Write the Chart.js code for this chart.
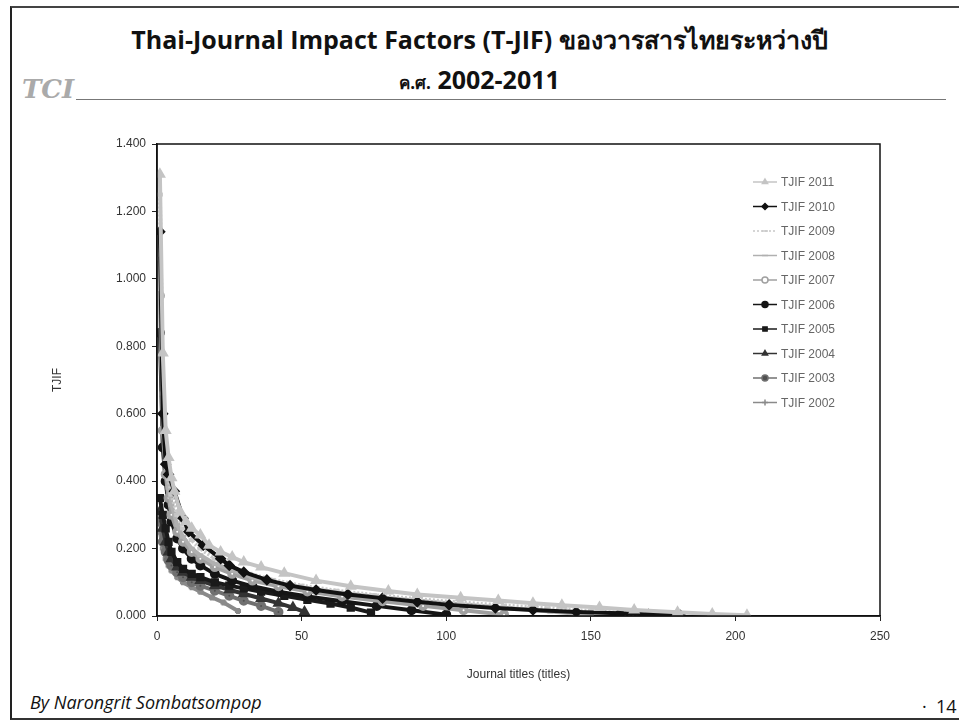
<!DOCTYPE html>
<html>
<head>
<meta charset="utf-8">
<script src="https://cdn.jsdelivr.net/npm/chart.js@4.4.0/dist/chart.umd.min.js"></script>
<style>
  body { margin: 0; background: #fff; }
  #slide { position: relative; width: 959px; height: 726px; overflow: hidden; background: #fff; }
  #frame { position: absolute; left: 10px; top: 6px; width: 960px; height: 710px;
           border-left: 2px solid #222; border-top: 2px solid #444; border-bottom: 2px solid #333; }
  .title { position: absolute; left: 0; width: 959px; text-align: center; font-family: "Open Sans", "Noto Sans", sans-serif;
           font-weight: bold; color: #111; }
  #t1 { top: 20px; font-size: 25px; }
  #t2 { top: 62px; font-size: 25px; }
  #t2 small { font-size: 17px; }
  #logo { position: absolute; left: 22px; top: 74px; font-family: "DejaVu Serif", serif; font-style: italic;
          font-weight: bold; font-size: 26px; color: #aaa; }
  #rule { position: absolute; left: 76px; top: 99px; width: 870px; border-top: 1px solid #777; }
  #by { position: absolute; left: 30px; top: 690px; font-family: "Open Sans", "Noto Sans", sans-serif; font-style: italic;
        font-size: 18px; color: #111; width: 320px; }
  #page { position: absolute; left: 922px; top: 694px; font-family: "Open Sans", sans-serif; font-size: 18px; color: #111; }
  canvas { position: absolute; left: 0; top: 0; }
</style>
</head>
<body>
<div id="slide">
  <div id="frame"></div>
  <div class="title" id="t1">Thai-Journal Impact Factors (T-JIF) ของวารสารไทยระหว่างปี</div>
  <div class="title" id="t2"><small>ค.ศ.</small> 2002-2011</div>
  <div id="logo">TCI</div>
  <div id="rule"></div>
  <div id="by">By Narongrit Sombatsompop</div>
  <div id="page">· &nbsp;14</div>
  <canvas id="chart" width="959" height="726"></canvas>
</div>
<script>
  // ค่าที่อ่านจากภาพ (อันดับวารสาร, T-JIF)
  const seriesNames = ['TJIF 2011', 'TJIF 2010', 'TJIF 2009', 'TJIF 2008', 'TJIF 2007',
                       'TJIF 2006', 'TJIF 2005', 'TJIF 2004', 'TJIF 2003', 'TJIF 2002'];

  const rank2011 = [1, 2, 3, 4, 5, 6, 8, 10, 12, 15, 18, 22, 26, 30, 36, 44, 55, 67, 80, 90, 105, 118, 130, 140, 153, 165, 180, 192, 204];
  const tjif2011 = [1.31, 0.78, 0.55, 0.47, 0.41, 0.37, 0.31, 0.28, 0.26, 0.24, 0.21, 0.19, 0.175, 0.16, 0.145, 0.127, 0.105, 0.088, 0.074, 0.064, 0.054, 0.046, 0.038, 0.032, 0.025, 0.018, 0.011, 0.006, 0.002];

  const rank2010 = [1, 2, 3, 4, 6, 9, 11, 16, 22, 25, 30, 38, 46, 55, 66, 78, 90, 101, 117, 130, 145, 160, 170, 181];
  const tjif2010 = [1.14, 0.6, 0.45, 0.42, 0.37, 0.29, 0.25, 0.21, 0.17, 0.15, 0.13, 0.107, 0.09, 0.077, 0.064, 0.053, 0.042, 0.033, 0.024, 0.018, 0.012, 0.008, 0.005, 0.002];

  const rank2009 = [1, 2, 3, 4, 5, 7, 9, 12, 15, 20, 26, 32, 40, 50, 62, 75, 90, 105, 120, 135, 150, 160, 170];
  const tjif2009 = [1.25, 0.66, 0.5, 0.41, 0.36, 0.3, 0.26, 0.225, 0.2, 0.17, 0.145, 0.125, 0.107, 0.09, 0.075, 0.062, 0.05, 0.04, 0.031, 0.023, 0.015, 0.009, 0.003];

  const rank2008 = [1, 2, 3, 4, 5, 7, 9, 12, 15, 20, 26, 33, 42, 52, 64, 78, 92, 108, 122, 136, 150];
  const tjif2008 = [1.06, 0.6, 0.46, 0.38, 0.33, 0.27, 0.235, 0.2, 0.18, 0.155, 0.135, 0.115, 0.097, 0.082, 0.068, 0.055, 0.044, 0.033, 0.023, 0.013, 0.003];

  const rank2007 = [1, 2, 3, 4, 5, 7, 9, 12, 15, 20, 26, 33, 42, 52, 64, 78, 92, 106, 120];
  const tjif2007 = [0.95, 0.55, 0.42, 0.35, 0.3, 0.25, 0.22, 0.19, 0.17, 0.145, 0.125, 0.105, 0.088, 0.073, 0.058, 0.044, 0.03, 0.017, 0.004];

  const rank2006 = [1, 2, 3, 4, 5, 7, 9, 12, 15, 20, 26, 33, 42, 52, 64, 76, 88, 100];
  const tjif2006 = [0.84, 0.5, 0.4, 0.33, 0.28, 0.23, 0.2, 0.17, 0.15, 0.125, 0.105, 0.088, 0.072, 0.058, 0.044, 0.03, 0.017, 0.004];

  const rank2005 = [1, 2, 3, 4, 5, 7, 9, 12, 15, 20, 25, 30, 36, 44, 52, 60, 67, 74];
  const tjif2005 = [0.35, 0.3, 0.26, 0.22, 0.19, 0.16, 0.14, 0.125, 0.115, 0.1, 0.09, 0.082, 0.072, 0.06, 0.048, 0.037, 0.025, 0.01];

  const rank2004 = [1, 2, 3, 4, 5, 7, 9, 12, 15, 20, 25, 30, 36, 42, 47, 51];
  const tjif2004 = [0.31, 0.26, 0.22, 0.19, 0.17, 0.145, 0.13, 0.115, 0.105, 0.09, 0.078, 0.066, 0.052, 0.038, 0.025, 0.012];

  const rank2003 = [1, 2, 3, 4, 5, 7, 9, 12, 15, 20, 25, 30, 36, 42];
  const tjif2003 = [0.28, 0.22, 0.19, 0.165, 0.15, 0.13, 0.115, 0.1, 0.09, 0.075, 0.06, 0.045, 0.03, 0.012];

  const rank2002 = [1, 2, 3, 4, 5, 7, 9, 12, 15, 19, 23, 28];
  const tjif2002 = [0.25, 0.2, 0.17, 0.15, 0.135, 0.115, 0.1, 0.085, 0.072, 0.055, 0.04, 0.015];

  const xTicks = [0, 50, 100, 150, 200, 250];
  const yTicks = [0, 0.2, 0.4, 0.6, 0.8, 1.0, 1.2, 1.4];

  const ranks = [rank2011, rank2010, rank2009, rank2008, rank2007, rank2006, rank2005, rank2004, rank2003, rank2002];
  const values = [tjif2011, tjif2010, tjif2009, tjif2008, tjif2007, tjif2006, tjif2005, tjif2004, tjif2003, tjif2002];

  // style ของแต่ละเส้น (สแกนขาวดำ)
  const styles = [
    { color: '#c4c4c4', point: 'triangle', fill: '#c4c4c4', dash: [] },
    { color: '#111111', point: 'rectRot', fill: '#111111', dash: [] },
    { color: '#c8c8c8', point: 'line', fill: '#c8c8c8', dash: [2, 2] },
    { color: '#b0b0b0', point: 'line', fill: '#b0b0b0', dash: [] },
    { color: '#a0a0a0', point: 'circle', fill: '#ffffff', dash: [] },
    { color: '#151515', point: 'circle', fill: '#151515', dash: [] },
    { color: '#1a1a1a', point: 'rect', fill: '#1a1a1a', dash: [] },
    { color: '#333333', point: 'triangle', fill: '#333333', dash: [] },
    { color: '#707070', point: 'circle', fill: '#505050', dash: [] },
    { color: '#8a8a8a', point: 'cross', fill: '#8a8a8a', dash: [] }
  ];

  const datasets = seriesNames.map((name, i) => ({
    label: name,
    data: ranks[i].map((r, k) => ({ x: r, y: values[i][k] })),
    borderColor: styles[i].color,
    backgroundColor: styles[i].fill,
    pointBackgroundColor: styles[i].fill,
    pointBorderColor: styles[i].color,
    pointStyle: styles[i].point,
    pointRadius: 3,
    borderWidth: 4,
    borderDash: styles[i].dash,
    tension: 0
  }));

  // legend ภายในกรอบกราฟ
  const insideLegend = {
    id: 'insideLegend',
    afterDraw(chart) {
      const ctx = chart.ctx;
      ctx.save();
      ctx.font = '12px "Liberation Sans", Arial, sans-serif';
      ctx.textBaseline = 'middle';
      chart.data.datasets.forEach((ds, i) => {
        const y = 182 + i * 24.5;
        ctx.strokeStyle = ds.borderColor;
        ctx.lineWidth = 1.5;
        ctx.setLineDash(ds.borderDash || []);
        ctx.beginPath();
        ctx.moveTo(753, y);
        ctx.lineTo(777, y);
        ctx.stroke();
        ctx.setLineDash([]);
        ctx.fillStyle = ds.pointBackgroundColor;
        Chart.helpers.drawPoint(ctx, { pointStyle: ds.pointStyle, radius: 3, borderWidth: 1, rotation: 0 }, 765, y);
        ctx.fillStyle = '#666';
        ctx.fillText(ds.label, 781, y + 1);
      });
      ctx.restore();
    }
  };

  // กรอบรอบ plot area
  const plotBox = {
    id: 'plotBox',
    afterDraw(chart) {
      const a = chart.chartArea;
      const ctx = chart.ctx;
      ctx.save();
      ctx.strokeStyle = '#111';
      ctx.lineWidth = 1.5;
      ctx.strokeRect(a.left, a.top, a.right - a.left, a.bottom - a.top);
      ctx.restore();
    }
  };

  new Chart(document.getElementById('chart'), {
    type: 'line',
    data: { datasets: datasets },
    options: {
      responsive: false,
      animation: false,
      layout: { padding: { left: 50, right: 79, top: 144, bottom: 40 } },
      plugins: { legend: { display: false }, tooltip: { enabled: false } },
      scales: {
        x: {
          type: 'linear',
          min: 0, max: 250,
          afterBuildTicks: (s) => { s.ticks = xTicks.map(v => ({ value: v })); },
          afterFit: (s) => { s.height = 70; },
          grid: { drawOnChartArea: false, drawTicks: true, tickLength: 5, color: '#222' },
          border: { color: '#111', width: 1.5 },
          ticks: { color: '#333', font: { family: '"Liberation Sans", Arial', size: 12 }, padding: 8 },
          title: { display: true, text: 'Journal titles (titles)', color: '#333',
                   font: { family: '"Liberation Sans", Arial', size: 12 }, padding: { top: 14 } }
        },
        y: {
          min: 0, max: 1.4,
          afterBuildTicks: (s) => { s.ticks = yTicks.map(v => ({ value: v })); },
          afterFit: (s) => { s.width = 107; },
          grid: { drawOnChartArea: false, drawTicks: true, tickLength: 5, color: '#222' },
          border: { color: '#111', width: 1.5 },
          ticks: { color: '#333', font: { family: '"Liberation Sans", Arial', size: 12 }, padding: 6,
                   callback: (v) => v.toFixed(3) },
          title: { display: true, text: 'TJIF', color: '#333',
                   font: { family: '"Liberation Sans", Arial', size: 12 }, padding: 0 }
        }
      }
    },
    plugins: [insideLegend, plotBox]
  });
</script>
</body>
</html>
